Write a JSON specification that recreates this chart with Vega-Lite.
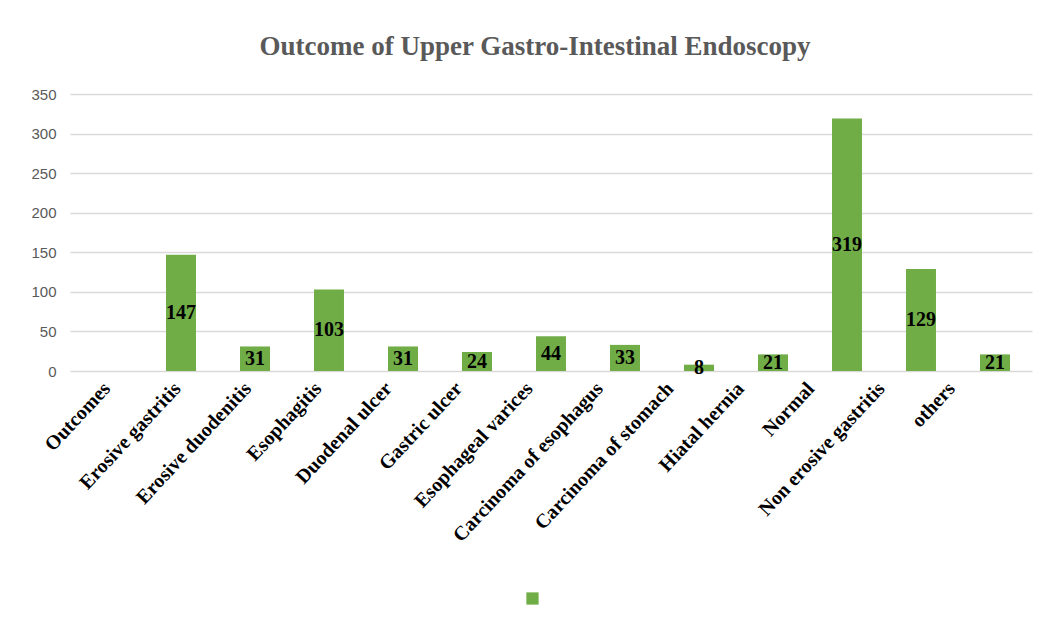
{
  "$schema": "https://vega.github.io/schema/vega-lite/v6.json",
  "autosize": {"type": "none"},
  "width": 962,
  "height": 277,
  "padding": {"left": 70, "top": 94, "right": 19, "bottom": 259},
  "background": "white",
  "title": {
    "text": "Outcome of Upper Gastro-Intestinal Endoscopy",
    "font": "Liberation Serif",
    "fontSize": 27,
    "fontWeight": "bold",
    "color": "#595959",
    "anchor": "middle",
    "dx": -16,
    "offset": 26
  },
  "data": {
    "values": [
      {"outcome": "Outcomes", "count": null, "series": " "},
      {"outcome": "Erosive gastritis", "count": 147, "series": " "},
      {"outcome": "Erosive duodenitis", "count": 31, "series": " "},
      {"outcome": "Esophagitis", "count": 103, "series": " "},
      {"outcome": "Duodenal ulcer", "count": 31, "series": " "},
      {"outcome": "Gastric ulcer", "count": 24, "series": " "},
      {"outcome": "Esophageal varices", "count": 44, "series": " "},
      {"outcome": "Carcinoma of esophagus", "count": 33, "series": " "},
      {"outcome": "Carcinoma of stomach", "count": 8, "series": " "},
      {"outcome": "Hiatal hernia", "count": 21, "series": " "},
      {"outcome": "Normal", "count": 319, "series": " "},
      {"outcome": "Non erosive gastritis", "count": 129, "series": " "},
      {"outcome": "others", "count": 21, "series": " "}
    ]
  },
  "encoding": {
    "x": {
      "field": "outcome",
      "type": "nominal",
      "sort": null,
      "scale": {
        "domain": ["Outcomes", "Erosive gastritis", "Erosive duodenitis", "Esophagitis", "Duodenal ulcer", "Gastric ulcer", "Esophageal varices", "Carcinoma of esophagus", "Carcinoma of stomach", "Hiatal hernia", "Normal", "Non erosive gastritis", "others"],
        "paddingInner": 0.595,
        "paddingOuter": 0.2975
      },
      "axis": {
        "title": null,
        "labelAngle": -47,
        "labelFont": "Liberation Serif",
        "labelFontWeight": "bold",
        "labelFontSize": 20,
        "labelColor": "#000000",
        "domain": false,
        "ticks": false,
        "labelPadding": 14,
        "labelLimit": 400,
        "labelOffset": {"expr": "0 - 3.6 * indexof(domain('x'), datum.value)"}
      }
    }
  },
  "layer": [
    {
      "mark": {"type": "bar"},
      "encoding": {
        "y": {
          "field": "count",
          "type": "quantitative",
          "scale": {"domain": [0, 350], "nice": false},
          "axis": {
            "title": null,
            "values": [0, 50, 100, 150, 200, 250, 300, 350],
            "labelFont": "Liberation Sans",
            "labelFontSize": 15,
            "labelColor": "#595959",
            "labelPadding": 14,
            "domain": false,
            "ticks": false,
            "gridColor": "#d9d9d9",
            "gridWidth": 1.3
          }
        },
        "color": {
          "field": "series",
          "type": "nominal",
          "scale": {"range": ["#70AD47"]},
          "legend": {
            "title": null,
            "orient": "none",
            "legendX": 456,
            "legendY": 498,
            "symbolType": "square",
            "symbolSize": 150,
            "symbolStrokeWidth": 0,
            "labelExpr": "''"
          }
        }
      }
    },
    {
      "transform": [{"filter": "datum.count != null"}],
      "mark": {
        "type": "text",
        "font": "Liberation Serif",
        "fontWeight": "bold",
        "fontSize": 20,
        "color": "#000000",
        "baseline": "middle"
      },
      "encoding": {
        "y": {
          "field": "count",
          "type": "quantitative",
          "scale": {"domain": [0, 700], "nice": false},
          "axis": null
        },
        "text": {"field": "count", "type": "quantitative"}
      }
    }
  ],
  "resolve": {"scale": {"y": "independent"}},
  "config": {
    "view": {"stroke": null}
  }
}
